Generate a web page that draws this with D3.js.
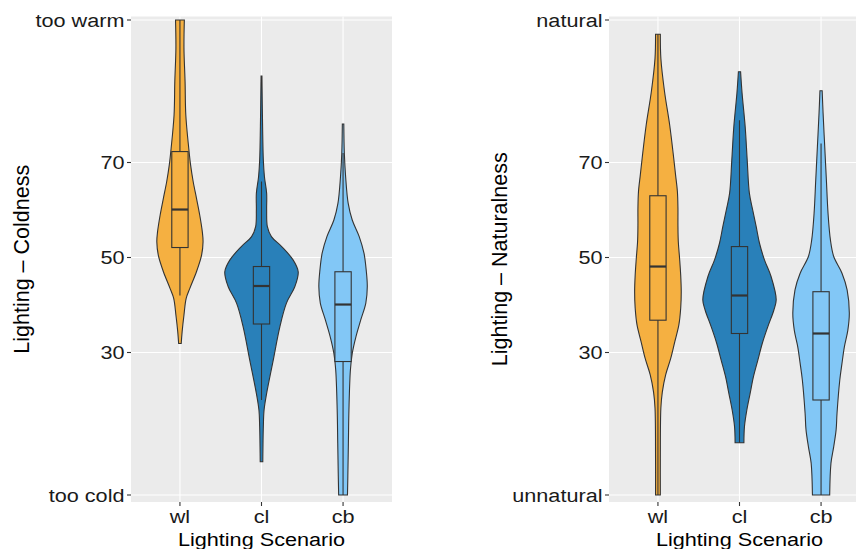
<!DOCTYPE html>
<html>
<head>
<meta charset="utf-8">
<script src="https://cdn.jsdelivr.net/npm/d3@7"></script>
<style>
body { margin: 0; background: #fff; }
text { font-family: "Liberation Sans", Arial, sans-serif; }
</style>
</head>
<body>
<svg id="chart" width="856" height="549"></svg>
<script>
var scenarios = ["wl", "cl", "cb"];
var colours = ["#F5B041", "#2980B9", "#82C7F6"];
var tickValues = [0, 30, 50, 70, 100];
var coldTickLabels = ["too cold", "30", "50", "70", "too warm"];
var naturalTickLabels = ["unnatural", "30", "50", "70", "natural"];

// violin outlines: [rating, relative density]
var coldWl = [[31.9,0.035],[34.4,0.06],[37.9,0.11],[41.4,0.17],[43.5,0.27],[47,0.45],[50.5,0.59],[53.3,0.63],[55.4,0.61],[58.9,0.54],[62.5,0.45],[66,0.36],[69.5,0.29],[73,0.24],[80,0.16],[87,0.14],[94,0.11],[100,0.12]];
var coldCl = [[7,0.035],[14.4,0.05],[17.9,0.07],[21.4,0.14],[28.4,0.32],[35.4,0.5],[40.4,0.68],[43.9,0.91],[47,1.0],[49.5,0.86],[52.3,0.55],[54.4,0.27],[56.5,0.16],[60,0.14],[63.5,0.14],[67,0.08],[70.5,0.05],[77.5,0.03],[88.2,0.012]];
var coldCb = [[0,0.12],[3.9,0.13],[10.9,0.145],[17.9,0.16],[26.3,0.2],[29.8,0.25],[33.3,0.35],[36.8,0.48],[40.4,0.62],[43.9,0.66],[47.4,0.63],[50.9,0.57],[54.4,0.44],[57.9,0.25],[61.4,0.14],[67,0.07],[71.9,0.035],[78.1,0.02]];

var naturalWl = [[0,0.065],[7.7,0.065],[18.3,0.08],[21.7,0.12],[25.3,0.21],[28.8,0.35],[32.3,0.46],[35.8,0.57],[39.3,0.62],[42.8,0.635],[46.3,0.62],[49.8,0.59],[53.3,0.555],[56.8,0.545],[60.4,0.545],[63.9,0.53],[67.4,0.48],[70.9,0.43],[77.9,0.32],[84.9,0.18],[91.9,0.08],[97,0.065]];
var naturalCl = [[11,0.12],[14.4,0.135],[17.9,0.2],[21.4,0.29],[24.9,0.38],[28.4,0.5],[31.9,0.62],[35.4,0.77],[38.9,0.935],[41.1,1.0],[46,0.86],[49.5,0.68],[53,0.545],[56.5,0.455],[60,0.36],[63.5,0.27],[70.5,0.21],[77.5,0.155],[84.6,0.07],[89.1,0.03]];
var naturalCb = [[0,0.235],[6.7,0.27],[10.2,0.345],[13.7,0.41],[17.2,0.435],[24.2,0.51],[27.7,0.57],[31.2,0.635],[34.7,0.73],[38.3,0.77],[43.2,0.71],[46.7,0.57],[50.2,0.345],[53.7,0.255],[59.3,0.19],[66.3,0.145],[73.3,0.1],[80.4,0.055],[85.1,0.03]];

// box stats: [lower whisker, q1, median, q3, upper whisker]
var coldBoxes = [[42,52.1,60.1,72.3,100],[20,36,44,48.1,66],[0,28.1,40.1,47,72]];
var naturalBoxes = [[0,36.8,48.1,63,97],[11,34,42,52.3,78.9],[0,20,34,42.8,74]];

var svg = d3.select("#chart");
var panelTop = 16.5, panelBottom = 502;
var stretch = 1.14;   // the text in the picture is a little wider than it is tall
var y = d3.scaleLinear().domain([0, 100]).range([495, 20]);

function drawPanel(left, right, titleX, title, tickLabels, violins, boxes) {
	var x = d3.scalePoint().domain(scenarios).range([left, right]).padding(0.6);
	var w = d3.scaleLinear().domain([0, 1]).range([0, x.step() * 0.45]);
	var boxHalf = x.step() * 0.1;
	var g = svg.append("g");

	g.append("rect")
	 .attr("x", left).attr("y", panelTop)
	 .attr("width", right - left).attr("height", panelBottom - panelTop)
	 .attr("fill", "#EBEBEB");

	g.selectAll(".hgrid").data(tickValues).enter().append("line")
	 .attr("x1", left).attr("x2", right)
	 .attr("y1", function(d) { return y(d); }).attr("y2", function(d) { return y(d); })
	 .attr("stroke", "#fff").attr("stroke-width", 1.1);
	g.selectAll(".vgrid").data(scenarios).enter().append("line")
	 .attr("x1", function(d) { return x(d); }).attr("x2", function(d) { return x(d); })
	 .attr("y1", panelTop).attr("y2", panelBottom)
	 .attr("stroke", "#fff").attr("stroke-width", 1.1);

	scenarios.forEach(function(s, i) {
		var cx = x(s);
		var area = d3.area()
			.y(function(d) { return y(d[0]); })
			.x0(function(d) { return cx - w(d[1]); })
			.x1(function(d) { return cx + w(d[1]); })
			.curve(d3.curveCatmullRom);
		g.append("path")
		 .attr("d", area(violins[i]))
		 .attr("fill", colours[i])
		 .attr("stroke", "#333").attr("stroke-width", 1.1);

		var b = boxes[i];
		g.append("line")
		 .attr("x1", cx).attr("x2", cx)
		 .attr("y1", y(b[0])).attr("y2", y(b[4]))
		 .attr("stroke", "#333").attr("stroke-width", 1.1);
		g.append("rect")
		 .attr("x", cx - boxHalf).attr("width", boxHalf * 2)
		 .attr("y", y(b[3])).attr("height", y(b[1]) - y(b[3]))
		 .attr("fill", colours[i])
		 .attr("stroke", "#333").attr("stroke-width", 1.1);
		g.append("line")
		 .attr("x1", cx - boxHalf).attr("x2", cx + boxHalf)
		 .attr("y1", y(b[2])).attr("y2", y(b[2]))
		 .attr("stroke", "#333").attr("stroke-width", 2.2);
	});

	// y axis
	g.selectAll(".ytick").data(tickValues).enter().append("line")
	 .attr("x1", left - 4).attr("x2", left)
	 .attr("y1", function(d) { return y(d); }).attr("y2", function(d) { return y(d); })
	 .attr("stroke", "#333").attr("stroke-width", 1.1);
	g.selectAll(".ylab").data(tickValues).enter().append("text")
	 .attr("transform", function(d) { return "translate(" + (left - 6.5) + "," + y(d) + ") scale(" + stretch + ",1)"; })
	 .attr("dy", "0.36em")
	 .attr("text-anchor", "end")
	 .style("font-size", "19px").attr("fill", "#1a1a1a")
	 .text(function(d, i) { return tickLabels[i]; });

	// x axis
	g.selectAll(".xtick").data(scenarios).enter().append("line")
	 .attr("x1", function(d) { return x(d); }).attr("x2", function(d) { return x(d); })
	 .attr("y1", panelBottom).attr("y2", panelBottom + 4)
	 .attr("stroke", "#333").attr("stroke-width", 1.1);
	g.selectAll(".xlab").data(scenarios).enter().append("text")
	 .attr("transform", function(d) { return "translate(" + x(d) + ",523) scale(" + stretch + ",1)"; })
	 .attr("text-anchor", "middle")
	 .style("font-size", "19px").attr("fill", "#1a1a1a")
	 .text(function(d) { return d; });

	g.append("text")
	 .attr("transform", "translate(" + (left + right) / 2 + ",545.5) scale(" + stretch + ",1)")
	 .attr("text-anchor", "middle")
	 .style("font-size", "19px").attr("fill", "#000")
	 .text("Lighting Scenario");
	g.append("text")
	 .attr("transform", "translate(" + titleX + "," + (panelTop + panelBottom) / 2 + ") rotate(-90)")
	 .attr("text-anchor", "middle")
	 .style("font-size", "21.5px").attr("fill", "#000")
	 .text(title);
}

drawPanel(131, 392, 28.5, "Lighting \u2013 Coldness", coldTickLabels, [coldWl, coldCl, coldCb], coldBoxes);
drawPanel(609, 870, 507, "Lighting \u2013 Naturalness", naturalTickLabels, [naturalWl, naturalCl, naturalCb], naturalBoxes);
</script>
</body>
</html>
